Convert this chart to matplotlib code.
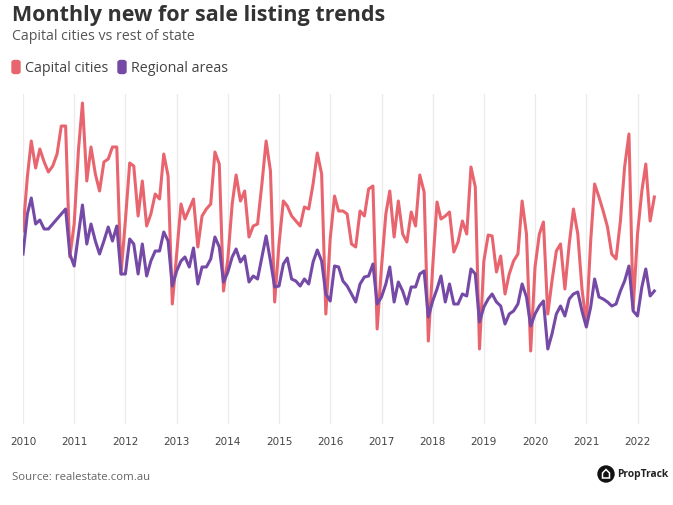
import numpy as np
import pandas as pd
import matplotlib
matplotlib.use("Agg")
import matplotlib.pyplot as plt
from matplotlib.patches import FancyBboxPatch, Ellipse, Polygon

# monthly new listings index, Jan 2010 - May 2022
capital = [193, 247, 283, 256, 275, 262, 252, 258, 270, 298, 298, 167,
           200, 275, 321, 243, 277, 250, 233, 262, 265, 277, 277, 150,
           203, 261, 258, 208, 243, 198, 210, 230, 225, 270, 248, 120,
           170, 220, 205, 215, 225, 177, 208, 215, 220, 272, 260, 133,
           165, 220, 249, 223, 233, 187, 198, 200, 240, 283, 253, 122,
           180, 223, 218, 208, 203, 198, 217, 215, 240, 271, 250, 110,
           185, 228, 213, 213, 210, 180, 177, 213, 208, 235, 238, 95,
           157, 210, 233, 187, 223, 190, 182, 212, 198, 249, 232, 83,
           157, 222, 205, 208, 212, 172, 182, 203, 190, 257, 237, 75,
           163, 189, 188, 152, 168, 130, 150, 163, 170, 223, 190, 73,
           157, 190, 202, 110, 143, 173, 180, 135, 180, 215, 190, 135,
           100, 183, 240, 227, 213, 197, 170, 165, 203, 257, 290, 115,
           190, 233, 260, 203, 227]
regional = [170, 210, 226, 200, 204, 195, 195, 200, 205, 210, 215, 170,
            158, 190, 219, 180, 200, 183, 170, 183, 197, 183, 198, 150,
            150, 185, 180, 150, 180, 148, 163, 173, 173, 192, 183, 138,
            153, 163, 167, 157, 176, 140, 157, 157, 165, 187, 177, 142,
            152, 167, 175, 162, 168, 142, 148, 145, 167, 188, 163, 137,
            138, 160, 166, 145, 143, 138, 145, 140, 162, 174, 163, 130,
            123, 158, 157, 143, 138, 130, 122, 140, 147, 148, 160, 120,
            127, 140, 157, 122, 142, 133, 120, 137, 137, 150, 153, 107,
            123, 135, 148, 122, 140, 120, 120, 130, 128, 155, 150, 102,
            117, 125, 130, 122, 118, 100, 110, 113, 120, 140, 127, 98,
            110, 118, 123, 75, 90, 110, 118, 108, 125, 130, 132, 113,
            97, 117, 145, 127, 125, 122, 118, 120, 133, 143, 158, 113,
            108, 137, 155, 128, 133]
months = pd.date_range("2010-01-01", periods=len(capital), freq="MS")
years = list(range(2010, 2023))

red = "#e8656f"
purple = "#7549a6"
W, H = 673, 506

fig = plt.figure(figsize=(6.73, 5.06), dpi=100)
ax = fig.add_axes([23 / W, 81 / H, 634 / W, 330 / H])

ax.plot(months, capital, color=red, lw=2.2, solid_joinstyle="round", zorder=3)
ax.plot(months, regional, color=purple, lw=2.2, solid_joinstyle="round", zorder=4)

ax.set_xlim(pd.Timestamp("2010-01-01"), pd.Timestamp("2022-05-20"))
ax.set_ylim(0, 330)
ticks = [pd.Timestamp(f"{y}-01-01") for y in years]
ax.set_xticks(ticks)
ax.set_xticklabels([str(y) for y in years])
ax.set_yticks([])
ax.grid(axis="x", color="#ebebeb", lw=1, zorder=0)
ax.tick_params(axis="x", length=0, pad=9, labelsize=7.5, labelcolor="#444444")
for s in ax.spines.values():
    s.set_visible(False)

# titles
fig.text(12 / W, 1 - 16 / H, "Monthly new for sale listing trends", fontsize=15.5,
         fontweight="bold", color="#333333", family="Open Sans", va="center")
fig.text(12 / W, 1 - 37 / H, "Capital cities vs rest of state", fontsize=10.2,
         color="#555555", family="Open Sans", va="center")

# legend
ly = 1 - 68 / H
for x0, col, lab in [(12, red, "Capital cities"), (118, purple, "Regional areas")]:
    fig.patches.append(FancyBboxPatch((x0 / W, ly - 6.5 / H), 8 / W, 13 / H,
                                      boxstyle="round,pad=0,rounding_size=0.004",
                                      transform=fig.transFigure, color=col))
    fig.text((x0 + 13) / W, ly, lab, fontsize=10.3, color="#444444",
             family="Open Sans", va="center")

# footer
fig.text(12 / W, 1 - 478 / H, "Source: realestate.com.au", fontsize=8.2,
         color="#666666", family="Open Sans", va="center")
cx, cy = 606, 475
fig.patches.append(Ellipse((cx / W, 1 - cy / H), 16 / W, 16 / H,
                           transform=fig.transFigure, color="#111111"))
house = [(cx - 3.5, cy + 4), (cx + 3.5, cy + 4), (cx + 3.5, cy - 1), (cx, cy - 4.5), (cx - 3.5, cy - 1)]
fig.patches.append(Polygon([(px / W, 1 - py / H) for px, py in house], closed=True,
                           transform=fig.transFigure, fill=False, ec="white", lw=1.1))
fig.text(668 / W, 1 - 475 / H, "PropTrack", fontsize=7.4, fontweight="bold",
         color="#222222", family="Open Sans", va="center", ha="right")

fig.savefig("out.png", dpi=100)
